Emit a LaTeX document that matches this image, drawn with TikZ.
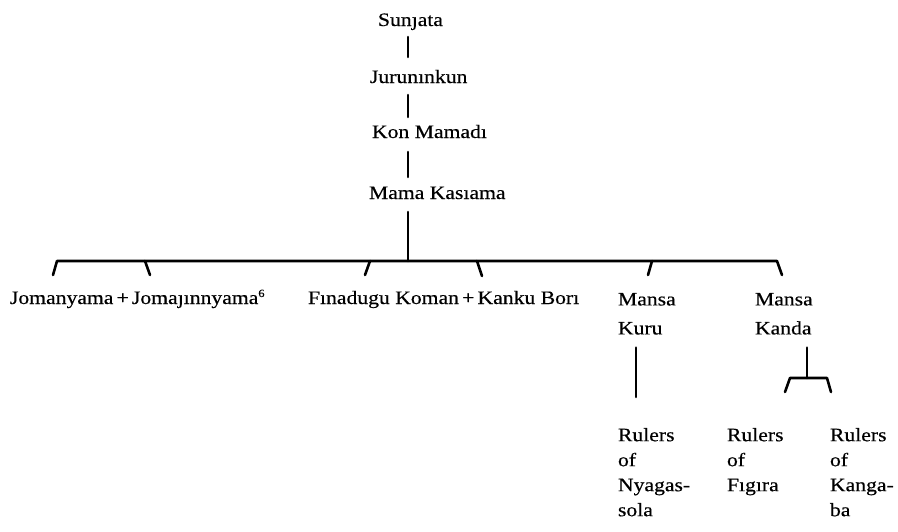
\documentclass[tikz,border=0pt]{standalone}
\usepackage{fontspec}
\setmainfont{Liberation Serif}[FakeStretch=1.14,FakeBold=0.4]
\usetikzlibrary{calc}
\begin{document}
\begin{tikzpicture}[x=1pt,y=-1pt,
  person/.style={inner sep=0pt,outer sep=0pt,anchor=base west,font=\fontsize{19}{23}\selectfont},
  twoline/.style={inner sep=0pt,outer sep=0pt,anchor=north west,align=left,font=\fontsize{19}{29}\selectfont},
  ruler/.style={inner sep=0pt,outer sep=0pt,anchor=north west,align=left,font=\fontsize{19}{25}\selectfont},
  conn/.style={line width=2.6pt,line cap=round,line join=round,draw=black}]
\useasboundingbox (0,0) rectangle (898,531);
% generations
\node[person] (sun)  at (378,26)  {Sunȷata};
\node[person] (jur)  at (370,83)  {Jurunınkun};
\node[person] (kon)  at (372,138) {Kon Mamadı};
\node[person] (mama) at (369,199) {Mama Kasıama};
\node[person] (jom)  at (10,304)  {Jomanyama\,+\,Jomaȷınnyama\raisebox{7pt}{\fontsize{11}{11}\selectfont 6}};
\node[person] (fin)  at (308,304) {Fınadugu Koman\,+\,Kanku Borı};
\node[twoline] (kuru)  at (618,293) {Mansa\\Kuru};
\node[twoline] (kanda) at (755,293) {Mansa\\Kanda};
\node[ruler] (nya) at (618,428) {Rulers\\of\\Nyagas-\\sola};
\node[ruler] (fig) at (727,428) {Rulers\\of\\Fıgıra};
\node[ruler] (kan) at (830,428) {Rulers\\of\\Kanga-\\ba};
% trunk
\coordinate (t) at (408,0);
\draw[conn] ($(sun.base -| t)+(0,11)$) -- ($(jur.base -| t)+(0,-26)$);
\draw[conn] ($(jur.base -| t)+(0,12)$) -- ($(kon.base -| t)+(0,-21)$);
\draw[conn] ($(kon.base -| t)+(0,14)$) -- ($(mama.base -| t)+(0,-22)$);
\coordinate (bar) at (408,261);
\draw[conn] ($(mama.base -| t)+(0,13)$) -- (bar);
% sibling bar with ticks
\coordinate (k1) at (53,275);
\coordinate (k2) at (150,275);
\coordinate (k3) at (365,275);
\coordinate (k4) at (482,276);
\coordinate (k5) at (648,275);
\coordinate (k6) at (782,275);
\draw[conn] (k1) -- (57,261) -- (bar) -- (777,261) -- (k6);
\draw[conn] (145,261) -- (k2);
\draw[conn] (370,261) -- (k3);
\draw[conn] (477,261) -- (k4);
\draw[conn] (652,261) -- (k5);
% Mansa Kuru -> Rulers of Nyagassola
\draw[conn] ($(kuru.south west)+(18,13)$) -- ($(nya.north west)+(18,-31)$);
% Mansa Kanda -> Rulers of Figira / Kangaba
\coordinate (kb) at (807,378);
\draw[conn] ($(kanda.south west)+(52,13)$) -- (kb);
\draw[conn] (785,392) -- (790,378) -- (kb) -- (827,378) -- (831,392);
\end{tikzpicture}
\end{document}
